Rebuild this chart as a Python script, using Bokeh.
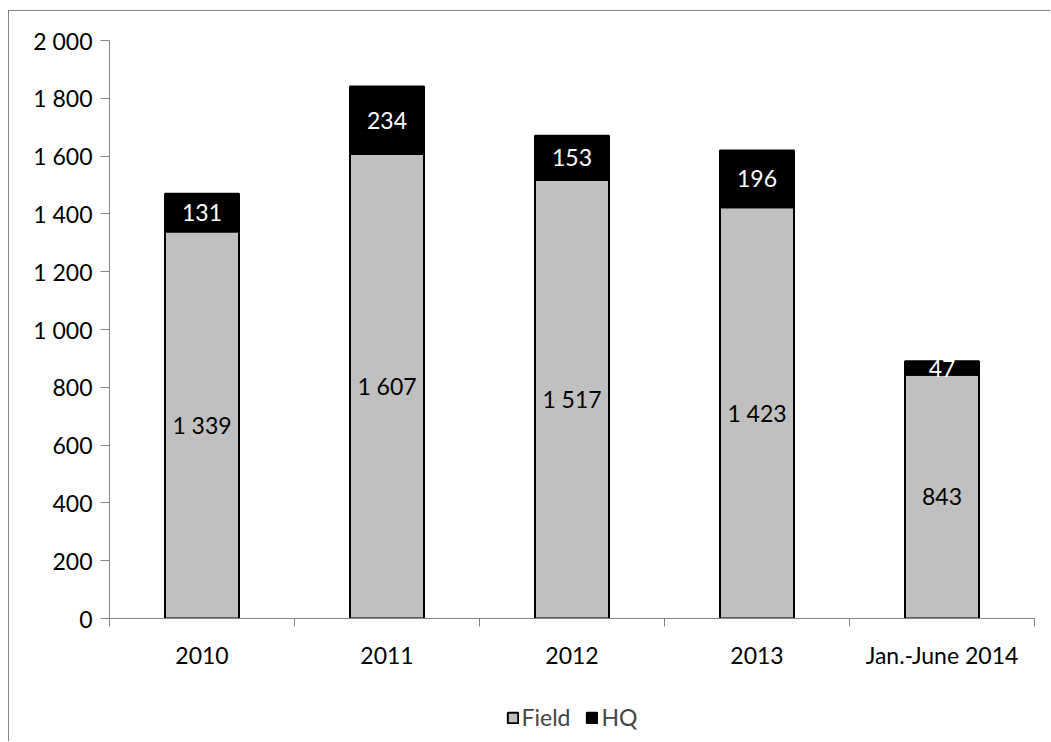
from bokeh.plotting import figure
from bokeh.models import (ColumnDataSource, FixedTicker, Range1d, Legend, LegendItem,
                          CustomJSTickFormatter)
from bokeh.core.properties import value
from bokeh.embed import file_html
from bokeh.resources import INLINE

categories = ["2010", "2011", "2012", "2013", "Jan.-June 2014"]
field = [1339, 1607, 1517, 1423, 843]
hq = [131, 234, 153, 196, 47]
y_ticks = [0, 200, 400, 600, 800, 1000, 1200, 1400, 1600, 1800, 2000]

FONT = "Lato"
FS = "23px"


def fmt(v):
    return f"{v:,}".replace(",", " ")


xc = [i + 0.5 for i in range(len(categories))]
src = ColumnDataSource(dict(
    x=xc,
    field=field,
    hq=hq,
    top=[f + h for f, h in zip(field, hq)],
    field_mid=[f / 2 for f in field],
    hq_mid=[f + h / 2 for f, h in zip(field, hq)],
    field_lbl=[fmt(v) for v in field],
    hq_lbl=[fmt(v) for v in hq],
))

p = figure(width=1042, height=731, frame_width=925, frame_height=578,
           output_backend="svg", toolbar_location=None,
           x_range=Range1d(0, len(categories)), y_range=Range1d(0, 2000),
           min_border_left=100, min_border_right=17, min_border_top=29,
           min_border_bottom=0, sizing_mode="fixed")
p.styles = {"margin-left": "8px", "margin-top": "10px",
            "border-left": "1px solid #868686", "border-top": "1px solid #868686"}
p.outline_line_color = None
p.xgrid.visible = False
p.ygrid.visible = False

r_field = p.vbar(x="x", width=0.4, bottom=0, top="field", source=src,
                 fill_color="#C0C0C0", line_color="black", line_width=2)
r_hq = p.vbar(x="x", width=0.4, bottom="field", top="top", source=src,
              fill_color="black", line_color="black", line_width=2)

p.text(x="x", y="field_mid", text="field_lbl", source=src, text_align="center",
       text_baseline="middle", text_font=value(FONT), text_font_size=FS,
       text_color="black")
p.text(x="x", y="hq_mid", text="hq_lbl", source=src, text_align="center",
       text_baseline="middle", text_font=value(FONT), text_font_size=FS,
       text_color="white")

# y axis
ya = p.yaxis[0]
ya.ticker = FixedTicker(ticks=y_ticks, minor_ticks=[])
ya.formatter = CustomJSTickFormatter(code="return tick.toString().replace(/\\B(?=(\\d{3})+(?!\\d))/g, ' ');")
ya.axis_line_color = "#868686"
ya.major_tick_line_color = "#868686"
ya.major_tick_out = 9
ya.major_tick_in = 0
ya.minor_tick_line_color = None
ya.major_label_text_font = FONT
ya.major_label_text_font_size = FS
ya.major_label_text_color = "black"
ya.major_label_standoff = 8

# x axis
xa = p.xaxis[0]
xa.ticker = FixedTicker(ticks=xc, minor_ticks=list(range(len(categories) + 1)))
xa.major_label_overrides = {v: c for v, c in zip(xc, categories)}
xa.axis_line_color = "#868686"
xa.major_tick_line_color = None
xa.major_tick_out = 0
xa.major_tick_in = 0
xa.minor_tick_line_color = "#868686"
xa.minor_tick_out = 8
xa.minor_tick_in = 0
xa.major_label_text_font = FONT
xa.major_label_text_font_size = FS
xa.major_label_text_color = "black"
xa.major_label_standoff = 14

legend = Legend(items=[LegendItem(label="Field", renderers=[r_field]),
                       LegendItem(label="HQ", renderers=[r_hq])],
                orientation="horizontal", location="center",
                label_text_font=FONT, label_text_font_size=FS,
                glyph_width=13, glyph_height=13, spacing=15, label_standoff=3,
                border_line_color=None, background_fill_alpha=0, margin=2, padding=0)
p.add_layout(legend, "below")

open("out.html", "w").write(file_html(p, INLINE))
